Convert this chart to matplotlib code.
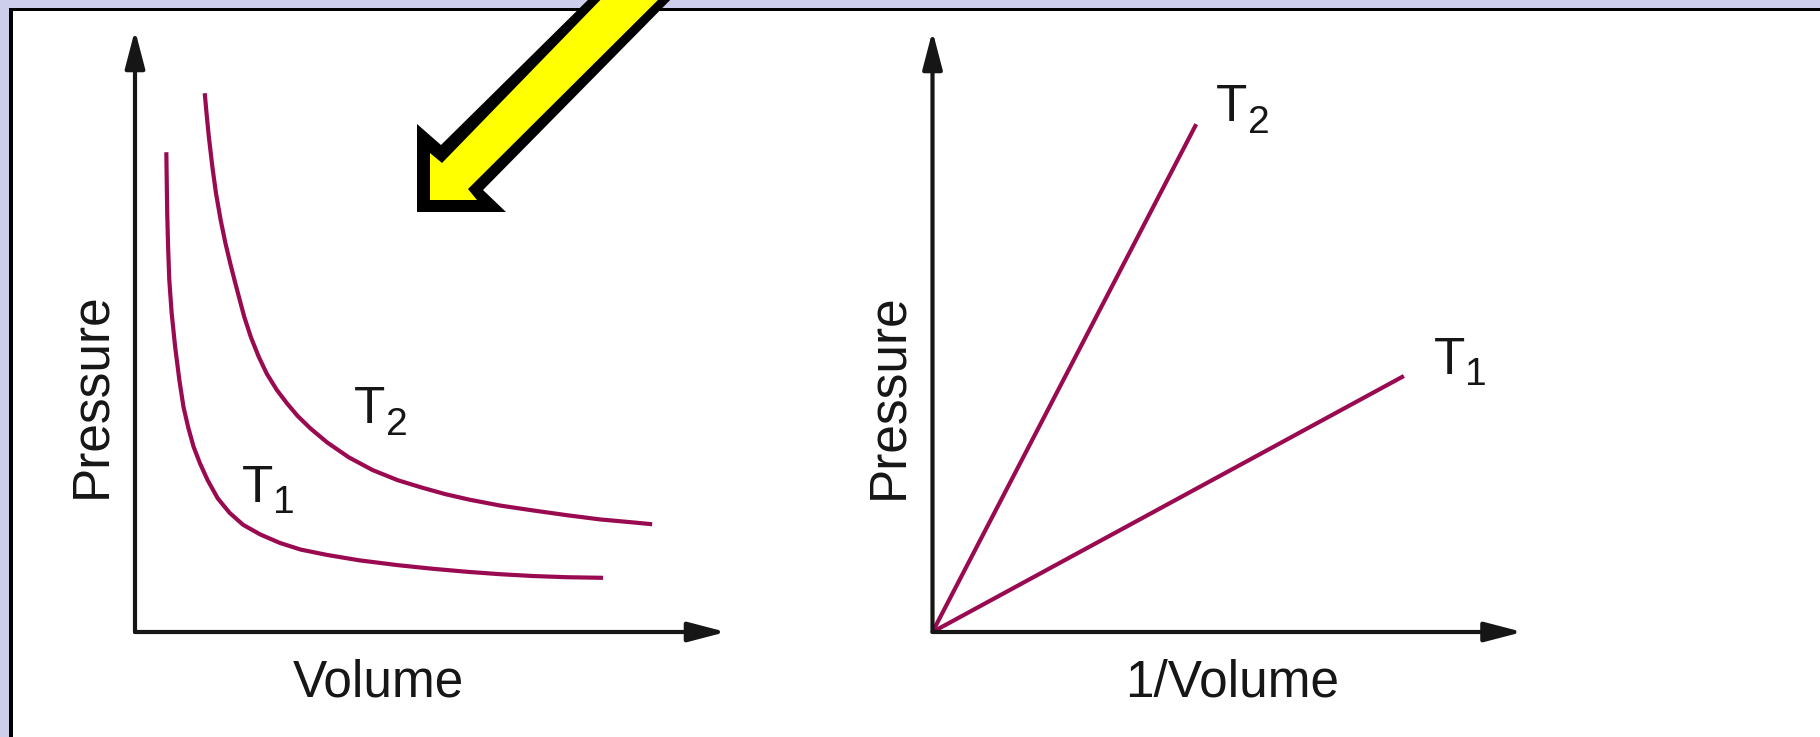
import matplotlib.pyplot as plt
from matplotlib.patches import Polygon, Rectangle

# Boyle's law isotherms: pressure against volume (left) and against 1/volume (right)
volume_t1 = [0.53, 0.545, 0.56, 0.58, 0.62, 0.68, 0.75, 0.82, 0.90, 0.99, 1.10, 1.23, 1.40, 1.60,
             1.83, 2.12, 2.45, 2.80, 3.25, 3.80, 4.45, 5.04, 5.62, 6.18, 6.73, 7.31, 7.92]
pressure_t1 = [7.97, 6.96, 6.40, 5.85, 5.30, 4.73, 4.19, 3.74, 3.40, 3.08, 2.80, 2.52, 2.22, 1.98,
               1.78, 1.62, 1.48, 1.37, 1.28, 1.19, 1.11, 1.05, 1.00, 0.96, 0.93, 0.91, 0.90]
volume_t2 = [1.18, 1.21, 1.25, 1.31, 1.37, 1.45, 1.53, 1.61, 1.68, 1.76, 1.85, 1.96, 2.09, 2.23,
             2.40, 2.57, 2.75, 2.97, 3.25, 3.62, 4.02, 4.45, 4.85, 5.25, 5.65, 6.18, 6.73, 7.31,
             7.87, 8.43, 8.75]
pressure_t2 = [8.95, 8.62, 8.22, 7.72, 7.29, 6.84, 6.46, 6.13, 5.86, 5.56, 5.23, 4.90, 4.58, 4.29,
               4.02, 3.80, 3.59, 3.38, 3.15, 2.90, 2.69, 2.52, 2.40, 2.29, 2.20, 2.10, 2.02, 1.94,
               1.87, 1.82, 1.79]

inv_volume_t1 = [0.0, 7.99]
inv_pressure_t1 = [0.0, 4.26]
inv_volume_t2 = [0.0, 4.47]
inv_pressure_t2 = [0.0, 8.45]

labels = ['T', '1', '2']
label_pos_left = {'1': (1.81, 2.16), '2': (3.71, 3.47)}
label_pos_right = {'1': (8.50, 4.30), '2': (4.81, 8.50)}

# pointer arrow outline, figure pixel coordinates (y down)
pointer_outer = [(417, 212), (417, 124), (441, 145), (600, -12), (682, -12), (483, 190), (506, 212)]
pointer_inner = [(430, 200), (430, 153), (442, 163), (612, -12), (670, -12), (468, 189), (477, 200)]

W, H = 1820, 737
CURVE = '#990a50'
INK = '#161616'
FONT = 'Liberation Sans'
FS = 37

plt.rcParams['font.family'] = FONT

fig = plt.figure(figsize=(W / 100, H / 100), dpi=100)
fig.patch.set_facecolor('#cdcdec')

# white panel with black top/left edge
bg = fig.add_axes([0, 0, 1, 1], zorder=0)
bg.set_xlim(0, W)
bg.set_ylim(H, 0)
bg.axis('off')
bg.add_patch(Rectangle((9, 8), W, H, facecolor='black', edgecolor='none'))
bg.add_patch(Rectangle((13, 11), W, H, facecolor='white', edgecolor='none'))


def make_axes(x0, x1, y_top, y_origin):
    ax = fig.add_axes([x0 / W, (H - y_origin) / H, (x1 - x0) / W, (y_origin - y_top) / H], zorder=2)
    ax.set_xlim(0, 10)
    ax.set_ylim(0, 10)
    ax.patch.set_alpha(0)
    for s in ax.spines.values():
        s.set_visible(False)
    ax.set_xticks([])
    ax.set_yticks([])
    arrow = dict(arrowstyle='-|>,head_length=2.3,head_width=0.6', mutation_scale=10,
                 lw=3.0, color=INK, shrinkA=0, shrinkB=0)
    ax.annotate('', xy=(1, 0), xytext=(0, 0), xycoords='axes fraction', arrowprops=arrow)
    ax.annotate('', xy=(0, 1), xytext=(0, 0), xycoords='axes fraction', arrowprops=arrow)
    return ax


def label_t(ax, pos, sub):
    x, y = pos
    ax.text(x, y, labels[0], fontsize=FS, color=INK, ha='left', va='baseline')
    ax.annotate(sub, xy=(x, y), xytext=(22.5, -8.3), textcoords='offset points',
                fontsize=28, color=INK, ha='left', va='baseline')


# left panel: P vs V
ax1 = make_axes(135, 726, 30, 632)
ax1.plot(volume_t1, pressure_t1, color=CURVE, lw=3.0, solid_capstyle='butt', solid_joinstyle='round')
ax1.plot(volume_t2, pressure_t2, color=CURVE, lw=3.0, solid_capstyle='butt', solid_joinstyle='round')
for sub in ['1', '2']:
    label_t(ax1, label_pos_left[sub], sub)
ax1.text(0.411, -0.1065, 'Volume', transform=ax1.transAxes, fontsize=FS, color=INK,
         ha='center', va='baseline')
ax1.text(-0.051, 0.394, 'Pressure', transform=ax1.transAxes, fontsize=FS, color=INK,
         rotation=90, rotation_mode='anchor', ha='center', va='baseline')

# right panel: P vs 1/V
ax2 = make_axes(932.5, 1522.5, 31, 632)
ax2.plot(inv_volume_t1, inv_pressure_t1, color=CURVE, lw=3.0, solid_capstyle='butt')
ax2.plot(inv_volume_t2, inv_pressure_t2, color=CURVE, lw=3.0, solid_capstyle='butt')
for sub in ['1', '2']:
    label_t(ax2, label_pos_right[sub], sub)
ax2.text(0.508, -0.1065, '1/Volume', transform=ax2.transAxes, fontsize=FS, color=INK,
         ha='center', va='baseline')
ax2.text(-0.052, 0.393, 'Pressure', transform=ax2.transAxes, fontsize=FS, color=INK,
         rotation=90, rotation_mode='anchor', ha='center', va='baseline')

# yellow pointer on top
ov = fig.add_axes([0, 0, 1, 1], zorder=5)
ov.set_xlim(0, W)
ov.set_ylim(H, 0)
ov.axis('off')
ov.patch.set_alpha(0)
ov.add_patch(Polygon(pointer_outer, closed=True, facecolor='black', edgecolor='none'))
ov.add_patch(Polygon(pointer_inner, closed=True, facecolor='#ffff00', edgecolor='none'))

fig.savefig('out.png', dpi=100)
